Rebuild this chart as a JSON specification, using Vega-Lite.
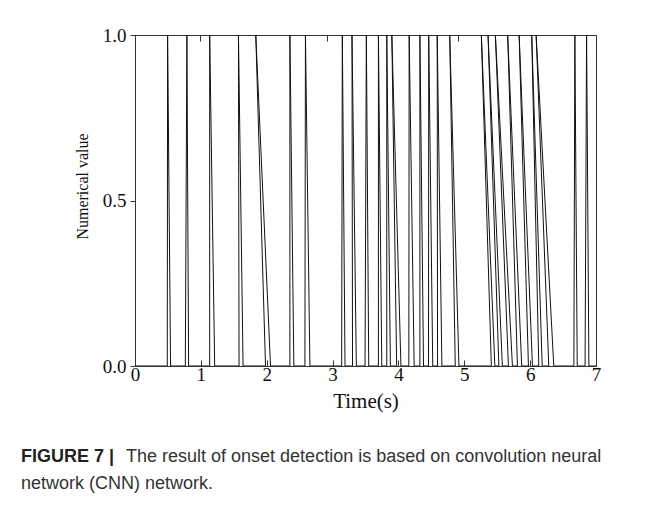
{
  "$schema": "https://vega.github.io/schema/vega-lite/v6.json",
  "autosize": {"type": "none"},
  "width": 461,
  "height": 331,
  "padding": {"left": 135, "top": 35, "right": 63, "bottom": 143},
  "background": "white",
  "config": {
    "view": {"stroke": "#333", "strokeWidth": 1},
    "axis": {"grid": false, "domainColor": "#333", "tickColor": "#333", "labelColor": "#111", "titleColor": "#111", "labelFont": "Liberation Serif", "titleFont": "Liberation Serif", "titleFontWeight": "normal"}
  },
  "title": {
    "text": "FIGURE 7 |",
    "subtitle": ["\u200b\u00a0\u00a0\u00a0\u00a0\u00a0\u00a0\u00a0\u00a0\u00a0\u00a0\u00a0\u00a0\u00a0\u00a0\u00a0\u00a0\u00a0\u00a0\u00a0\u00a0\u00a0The result of onset detection is based on convolution neural", "network (CNN) network."],
    "orient": "bottom",
    "anchor": "start",
    "frame": "group",
    "dx": -114,
    "offset": 37,
    "font": "Liberation Sans",
    "fontSize": 18,
    "fontWeight": "bold",
    "color": "#222",
    "subtitleFont": "Liberation Sans",
    "subtitleFontSize": 18,
    "subtitleColor": "#333",
    "subtitlePadding": -18,
    "subtitleLineHeight": 27
  },
  "data": {
    "values": [
      {"i": 0, "t": 0, "v": 0},
      {"i": 1, "t": 0.490, "v": 0}, {"i": 2, "t": 0.495, "v": 1}, {"i": 3, "t": 0.540, "v": 0},
      {"i": 4, "t": 0.764, "v": 0}, {"i": 5, "t": 0.788, "v": 1}, {"i": 6, "t": 0.814, "v": 0},
      {"i": 7, "t": 1.134, "v": 0}, {"i": 8, "t": 1.134, "v": 1}, {"i": 9, "t": 1.210, "v": 0},
      {"i": 10, "t": 1.580, "v": 0}, {"i": 11, "t": 1.571, "v": 1}, {"i": 12, "t": 1.641, "v": 0},
      {"i": 13, "t": 1.982, "v": 0}, {"i": 14, "t": 1.834, "v": 1}, {"i": 15, "t": 2.058, "v": 0},
      {"i": 16, "t": 2.352, "v": 0}, {"i": 17, "t": 2.352, "v": 1}, {"i": 18, "t": 2.412, "v": 0},
      {"i": 19, "t": 2.580, "v": 0}, {"i": 20, "t": 2.588, "v": 1}, {"i": 21, "t": 2.656, "v": 0},
      {"i": 22, "t": 3.138, "v": 0}, {"i": 23, "t": 3.148, "v": 1}, {"i": 24, "t": 3.189, "v": 0},
      {"i": 25, "t": 3.303, "v": 0}, {"i": 26, "t": 3.295, "v": 1}, {"i": 27, "t": 3.361, "v": 0},
      {"i": 28, "t": 3.493, "v": 0}, {"i": 29, "t": 3.513, "v": 1}, {"i": 30, "t": 3.549, "v": 0},
      {"i": 31, "t": 3.696, "v": 0}, {"i": 32, "t": 3.696, "v": 1}, {"i": 33, "t": 3.747, "v": 0},
      {"i": 34, "t": 3.823, "v": 0}, {"i": 35, "t": 3.823, "v": 1}, {"i": 36, "t": 3.878, "v": 0},
      {"i": 37, "t": 3.973, "v": 0}, {"i": 38, "t": 3.900, "v": 1}, {"i": 39, "t": 4.038, "v": 0},
      {"i": 40, "t": 4.158, "v": 0}, {"i": 41, "t": 4.163, "v": 1}, {"i": 42, "t": 4.239, "v": 0},
      {"i": 43, "t": 4.326, "v": 0}, {"i": 44, "t": 4.326, "v": 1}, {"i": 45, "t": 4.381, "v": 0},
      {"i": 46, "t": 4.457, "v": 0}, {"i": 47, "t": 4.460, "v": 1}, {"i": 48, "t": 4.521, "v": 0},
      {"i": 49, "t": 4.594, "v": 0}, {"i": 50, "t": 4.589, "v": 1}, {"i": 51, "t": 4.660, "v": 0},
      {"i": 52, "t": 4.863, "v": 0}, {"i": 53, "t": 4.779, "v": 1}, {"i": 54, "t": 4.919, "v": 0},
      {"i": 55, "t": 5.411, "v": 0}, {"i": 56, "t": 5.259, "v": 1}, {"i": 57, "t": 5.464, "v": 0},
      {"i": 58, "t": 5.525, "v": 0}, {"i": 59, "t": 5.361, "v": 1}, {"i": 60, "t": 5.578, "v": 0},
      {"i": 61, "t": 5.670, "v": 0}, {"i": 62, "t": 5.472, "v": 1}, {"i": 63, "t": 5.731, "v": 0},
      {"i": 64, "t": 5.807, "v": 0}, {"i": 65, "t": 5.659, "v": 1}, {"i": 66, "t": 5.872, "v": 0},
      {"i": 67, "t": 5.974, "v": 0}, {"i": 68, "t": 5.833, "v": 1}, {"i": 69, "t": 6.035, "v": 0},
      {"i": 70, "t": 6.131, "v": 0}, {"i": 71, "t": 6.024, "v": 1}, {"i": 72, "t": 6.183, "v": 0},
      {"i": 73, "t": 6.283, "v": 0}, {"i": 74, "t": 6.091, "v": 1}, {"i": 75, "t": 6.359, "v": 0},
      {"i": 76, "t": 6.664, "v": 0}, {"i": 77, "t": 6.679, "v": 1}, {"i": 78, "t": 6.715, "v": 0},
      {"i": 79, "t": 6.834, "v": 0}, {"i": 80, "t": 6.857, "v": 1}, {"i": 81, "t": 6.892, "v": 0},
      {"i": 82, "t": 7, "v": 0}
    ]
  },
  "layer": [
    {
      "mark": {"type": "line", "color": "#111", "strokeWidth": 1, "clip": true},
      "encoding": {
        "x": {"field": "t", "type": "quantitative", "scale": {"domain": [0, 7], "nice": false, "zero": false},
          "axis": {"orient": "bottom", "values": [0, 1, 2, 3, 4, 5, 6, 7], "format": "d", "tickSize": -6, "labelPadding": 5, "labelFontSize": 19, "title": "Time(s)", "titleFontSize": 21, "titlePadding": 6, "labelFlush": false}},
        "y": {"field": "v", "type": "quantitative", "scale": {"domain": [0, 1], "nice": false},
          "axis": {"values": [0, 0.5, 1], "format": ".1f", "tickSize": 5, "labelPadding": 4, "labelFontSize": 19, "title": "Numerical value", "titleFontSize": 16, "titlePadding": 12, "titleY": 151}},
        "order": {"field": "i", "type": "quantitative"}
      }
    },
    {
      "mark": {"type": "point", "opacity": 0},
      "encoding": {
        "x": {"field": "t", "type": "quantitative",
          "axis": {"orient": "top", "values": [0.98, 2.91, 4.9], "labels": false, "tickSize": -6, "title": null}}
      }
    }
  ],
  "resolve": {"axis": {"x": "independent"}}
}
